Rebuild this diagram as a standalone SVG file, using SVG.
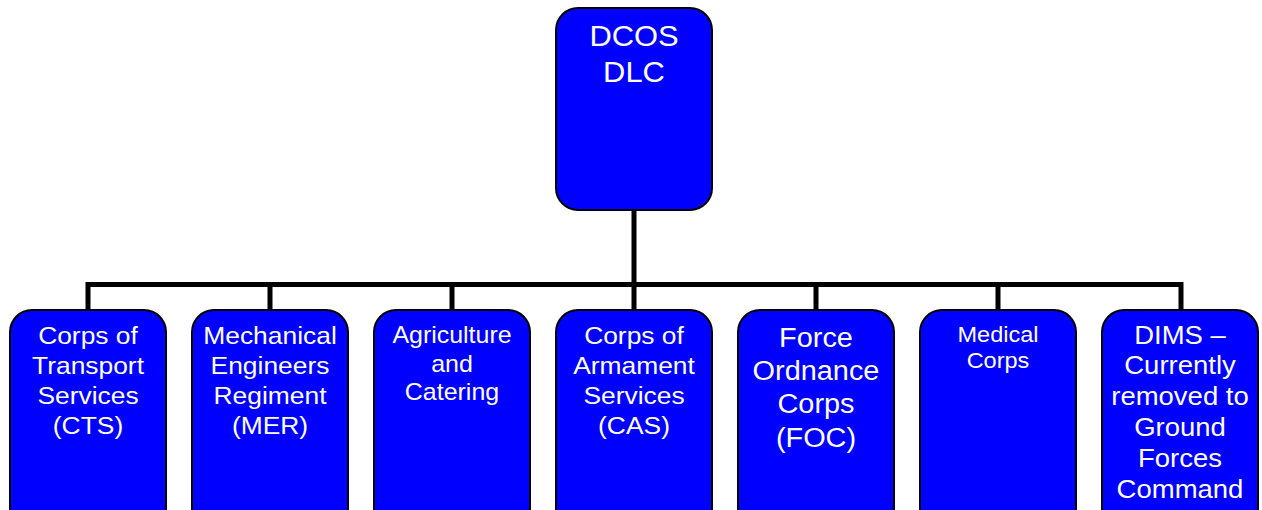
<svg xmlns="http://www.w3.org/2000/svg" width="1262" height="510" viewBox="0 0 1262 510">
<style>
.box{fill:#0000FF;stroke:#000;stroke-width:2}
.t{fill:#fff;font-family:"Liberation Sans",Arial,sans-serif;text-anchor:middle}
.c{stroke:#000;stroke-width:5;fill:none}
</style>
<rect width="1262" height="510" fill="#fff"/>
<g id="connectors">
<path class="c" d="M634 210V284.5M88 311V284.5H1181V311M270 284.5V311M452 284.5V311M634 284.5V311M816 284.5V311M998 284.5V311"/>
</g>
<g id="dcos">
<rect class="box" x="556" y="8" width="156" height="202" rx="22"/>
<g transform="translate(634,0) scale(1.03,1)"><text class="t" font-size="30"><tspan x="0" y="46">DCOS</tspan><tspan x="0" y="82">DLC</tspan></text></g>
</g>
<g id="cts">
<rect class="box" x="10" y="310" width="156" height="220" rx="22"/>
<g transform="translate(88,0) scale(1.1,1)"><text class="t" font-size="24"><tspan x="0" y="344">Corps of</tspan><tspan x="0" y="374">Transport</tspan><tspan x="0" y="404">Services</tspan><tspan x="0" y="434">(CTS)</tspan></text></g>
</g>
<g id="mer">
<rect class="box" x="192" y="310" width="156" height="220" rx="22"/>
<g transform="translate(270,0) scale(1.1,1)"><text class="t" font-size="24"><tspan x="0" y="344">Mechanical</tspan><tspan x="0" y="374">Engineers</tspan><tspan x="0" y="404">Regiment</tspan><tspan x="0" y="434">(MER)</tspan></text></g>
</g>
<g id="agri">
<rect class="box" x="374" y="310" width="156" height="220" rx="22"/>
<g transform="translate(452,0) scale(1.04,1)"><text class="t" font-size="24"><tspan x="0" y="343">Agriculture</tspan><tspan x="0" y="372">and</tspan><tspan x="0" y="400">Catering</tspan></text></g>
</g>
<g id="cas">
<rect class="box" x="556" y="310" width="156" height="220" rx="22"/>
<g transform="translate(634,0) scale(1.1,1)"><text class="t" font-size="24"><tspan x="0" y="344">Corps of</tspan><tspan x="0" y="374">Armament</tspan><tspan x="0" y="404">Services</tspan><tspan x="0" y="434">(CAS)</tspan></text></g>
</g>
<g id="foc">
<rect class="box" x="738" y="310" width="156" height="220" rx="22"/>
<g transform="translate(816,0) scale(1.07,1)"><text class="t" font-size="27"><tspan x="0" y="347">Force</tspan><tspan x="0" y="380">Ordnance</tspan><tspan x="0" y="413">Corps</tspan><tspan x="0" y="447">(FOC)</tspan></text></g>
</g>
<g id="medical">
<rect class="box" x="920" y="310" width="156" height="220" rx="22"/>
<g transform="translate(998,0) scale(1.07,1)"><text class="t" font-size="22"><tspan x="0" y="342">Medical</tspan><tspan x="0" y="368">Corps</tspan></text></g>
</g>
<g id="dims">
<rect class="box" x="1102" y="310" width="156" height="220" rx="22"/>
<g transform="translate(1180,0) scale(1.1,1)"><text class="t" font-size="25"><tspan x="0" y="344">DIMS –</tspan><tspan x="0" y="374">Currently</tspan><tspan x="0" y="405">removed to</tspan><tspan x="0" y="436">Ground</tspan><tspan x="0" y="467">Forces</tspan><tspan x="0" y="498">Command</tspan></text></g>
</g>
</svg>
